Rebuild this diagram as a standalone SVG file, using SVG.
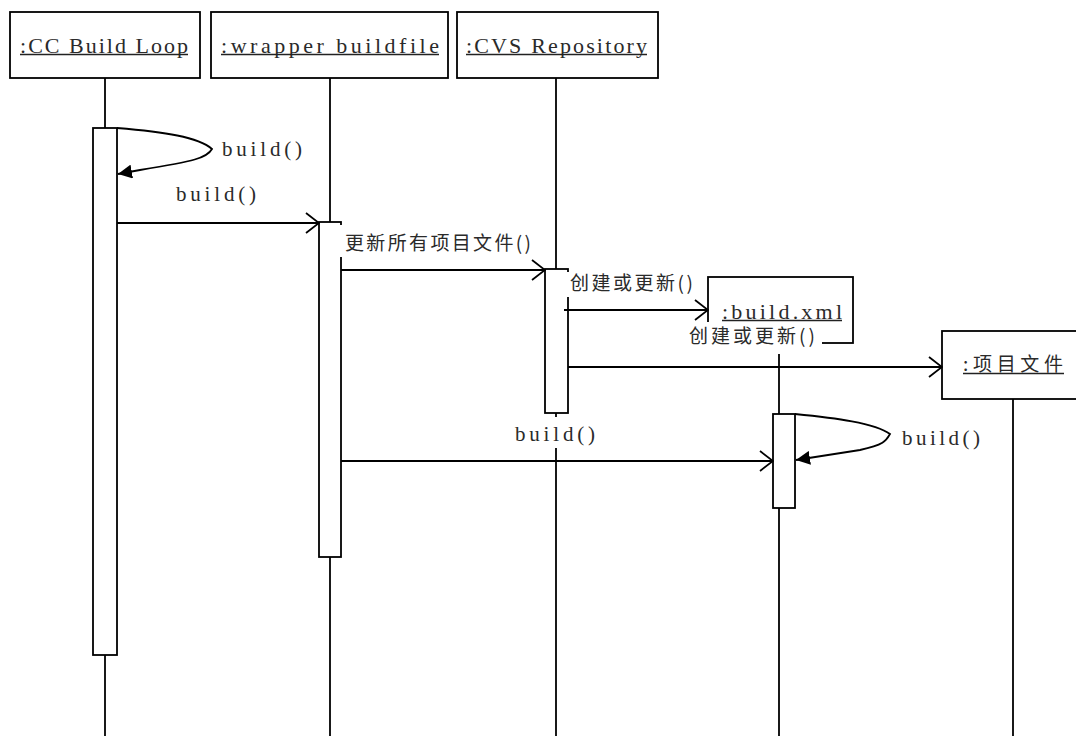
<svg xmlns="http://www.w3.org/2000/svg" width="1076" height="736" viewBox="0 0 1076 736">
  <defs>
    <style>
      .box { fill: #fff; stroke: #000; stroke-width: 1.8; }
      .life { stroke: #000; stroke-width: 1.8; fill: none; }
      .act { fill: #fff; stroke: #000; stroke-width: 1.8; }
      .msg { stroke: #000; stroke-width: 1.8; fill: none; }
      .ul { stroke: #222; stroke-width: 1.5; }
      .t { font-family: "Liberation Serif", "Noto Sans CJK SC", serif; fill: #2a2a2a; }
      .c { font-family: "Noto Sans CJK SC", "Liberation Serif", sans-serif; fill: #2a2a2a; }
      .name { font-size: 22px; }
      .lbl { font-size: 21px; }
      .cl { font-size: 19px; }
      .bg { fill: #fff; stroke: none; }
    </style>
    <marker id="open" viewBox="0 0 15 22" refX="14" refY="11" markerWidth="15" markerHeight="22" markerUnits="userSpaceOnUse" orient="auto">
      <path d="M1,1 L14,11 L1,21" fill="none" stroke="#000" stroke-width="1.8"/>
    </marker>
    <marker id="filled" viewBox="0 0 14 14" refX="14" refY="7" markerWidth="14" markerHeight="14" markerUnits="userSpaceOnUse" orient="auto">
      <path d="M0,0 L14,7 L0,14 Z" fill="#000"/>
    </marker>
  </defs>
  <rect width="1076" height="736" fill="#fff"/>

  <g id="cc-build-loop">
    <line class="life" x1="105" y1="78" x2="105" y2="736"/>
    <rect class="box" x="10" y="12" width="190" height="66"/>
    <text class="t name" x="20" y="53" textLength="168" lengthAdjust="spacing">:CC Build Loop</text>
    <line class="ul" x1="20" y1="54.5" x2="188" y2="54.5"/>
    <rect class="act" x="93" y="128" width="24" height="527"/>
  </g>

  <g id="wrapper-buildfile">
    <line class="life" x1="330" y1="78" x2="330" y2="736"/>
    <rect class="box" x="211" y="12" width="237" height="66"/>
    <text class="t name" x="221" y="53" textLength="218" lengthAdjust="spacing">:wrapper buildfile</text>
    <line class="ul" x1="221" y1="54.5" x2="439" y2="54.5"/>
    <rect class="act" x="319" y="222" width="22" height="335"/>
  </g>

  <g id="cvs-repository">
    <line class="life" x1="556" y1="78" x2="556" y2="736"/>
    <rect class="box" x="457" y="12" width="201" height="66"/>
    <text class="t name" x="466" y="53" textLength="181" lengthAdjust="spacing">:CVS Repository</text>
    <line class="ul" x1="466" y1="54.5" x2="647" y2="54.5"/>
    <rect class="act" x="545" y="269" width="23" height="144"/>
  </g>

  <g id="build-xml">
    <line class="life" x1="779" y1="343" x2="779" y2="736"/>
    <rect class="box" x="708" y="277" width="145" height="66"/>
    <text class="t name" x="722" y="318.5" textLength="120" lengthAdjust="spacing">:build.xml</text>
    <line class="ul" x1="722" y1="320.5" x2="842" y2="320.5"/>
    <rect class="act" x="773" y="414" width="22" height="94"/>
  </g>

  <g id="project-files">
    <line class="life" x1="1013" y1="399" x2="1013" y2="736"/>
    <rect class="box" x="942" y="331" width="142" height="68"/>
    <text class="c cl" x="963" y="371" textLength="100" lengthAdjust="spacing">:项目文件</text>
    <line class="ul" x1="963" y1="373.5" x2="1064" y2="373.5"/>
  </g>

  <g id="connectors">
    <path class="msg" d="M117,128 C165,132 198,137 212,149 C207,158 195,161 140,170 L118,174" marker-end="url(#filled)"/>
    <line class="msg" x1="117" y1="223" x2="319" y2="223" marker-end="url(#open)"/>
    <line class="msg" x1="341" y1="270" x2="545" y2="270" marker-end="url(#open)"/>
    <line class="msg" x1="564" y1="310" x2="708" y2="310" marker-end="url(#open)"/>
    <line class="msg" x1="568" y1="367" x2="942" y2="367" marker-end="url(#open)"/>
    <line class="msg" x1="341" y1="461" x2="773" y2="461" marker-end="url(#open)"/>
    <path class="msg" d="M795,414 C835,418 875,423 890,434 C886,441 884,445 860,450 L796,460" marker-end="url(#filled)"/>
  </g>

  <g id="labels">
    <text class="t lbl" x="222" y="156" textLength="80" lengthAdjust="spacing">build()</text>
    <text class="t lbl" x="176" y="201" textLength="80" lengthAdjust="spacing">build()</text>

    <rect class="bg" x="340" y="225" width="195" height="32"/>
    <text class="c cl" x="345" y="250" textLength="186" lengthAdjust="spacing">更新所有项目文件()</text>

    <rect class="bg" x="567" y="272" width="128" height="25"/>
    <text class="c cl" x="570" y="290" textLength="123" lengthAdjust="spacing">创建或更新()</text>

    <rect class="bg" x="686" y="322" width="136" height="32"/>
    <text class="c cl" x="689" y="343" textLength="126" lengthAdjust="spacing">创建或更新()</text>

    <rect class="bg" x="512" y="417" width="84" height="31"/>
    <text class="t lbl" x="515" y="441" textLength="80" lengthAdjust="spacing">build()</text>

    <text class="t lbl" x="902" y="445" textLength="78" lengthAdjust="spacing">build()</text>
  </g>
</svg>
